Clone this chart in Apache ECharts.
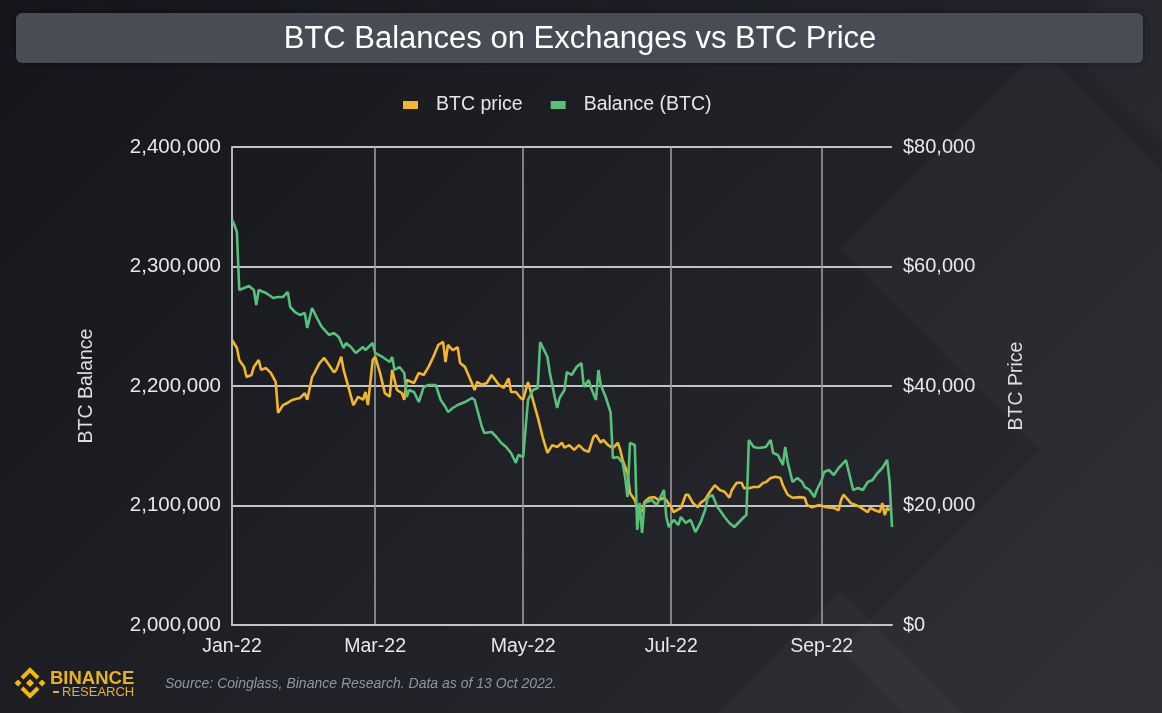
<!DOCTYPE html>
<html>
<head>
<meta charset="utf-8">
<script src="https://cdn.jsdelivr.net/npm/echarts@6/dist/echarts.min.js"></script>
<style>
  html, body { margin: 0; padding: 0; }
  body { width: 1162px; height: 713px; overflow: hidden;
         background: linear-gradient(135deg, #15161a 0%, #1d1f24 40%, #2a2c32 100%); }
  #chart { width: 1162px; height: 713px; }
</style>
</head>
<body>
<div id="chart"></div>
<script>
// ---------- DATA ----------
const titleText = 'BTC Balances on Exchanges vs BTC Price';
const sourceText = 'Source: Coinglass, Binance Research. Data as of 13 Oct 2022.';
const seriesNames = ['BTC price', 'Balance (BTC)'];
const axisStart = '2022-01-01';
const axisEnd = '2022-09-30';
const tickDates = ['2022-01-01', '2022-03-01', '2022-05-01', '2022-07-01', '2022-09-01'];
const tickLabels = ['Jan-22', 'Mar-22', 'May-22', 'Jul-22', 'Sep-22'];
const balanceTicks = [2000000, 2100000, 2200000, 2300000, 2400000];
const priceTicks = [0, 20000, 40000, 60000, 80000];

const balanceData = [
  ['2022-01-01',2339000],['2022-01-02',2334700],['2022-01-03',2328900],['2022-01-04',2280300],
  ['2022-01-06',2282000],['2022-01-08',2283700],['2022-01-10',2280300],['2022-01-11',2267800],
  ['2022-01-12',2280300],['2022-01-15',2277800],['2022-01-18',2273600],['2022-01-20',2274500],
  ['2022-01-22',2274500],['2022-01-24',2278700],['2022-01-25',2266100],['2022-01-27',2261900],
  ['2022-01-29',2259400],['2022-01-31',2261100],['2022-02-01',2248500],['2022-02-03',2265300],
  ['2022-02-05',2256900],['2022-02-07',2249400],['2022-02-10',2242700],['2022-02-12',2244300],
  ['2022-02-14',2241000],['2022-02-16',2231800],['2022-02-17',2236000],['2022-02-19',2232600],
  ['2022-02-21',2227600],['2022-02-24',2232600],['2022-02-25',2230100],['2022-02-28',2236000],
  ['2022-03-01',2227600],['2022-03-04',2224300],['2022-03-07',2220100],['2022-03-08',2224300],
  ['2022-03-09',2213400],['2022-03-11',2215900],['2022-03-13',2210900],['2022-03-14',2190800],
  ['2022-03-15',2196600],['2022-03-17',2195000],['2022-03-19',2186600],['2022-03-21',2199200],
  ['2022-03-23',2200800],['2022-03-26',2200800],['2022-03-28',2188300],['2022-03-30',2182400],
  ['2022-03-31',2178200],['2022-04-02',2181600],['2022-04-04',2184100],['2022-04-07',2186600],
  ['2022-04-10',2190000],['2022-04-11',2188300],['2022-04-14',2165700],['2022-04-15',2160700],
  ['2022-04-18',2161500],['2022-04-20',2157300],['2022-04-22',2152300],['2022-04-24',2149000],
  ['2022-04-26',2143900],['2022-04-28',2135600],['2022-04-29',2142300],['2022-05-01',2140600],
  ['2022-05-03',2188300],['2022-05-05',2196600],['2022-05-07',2198300],['2022-05-08',2236800],
  ['2022-05-09',2232600],['2022-05-11',2224300],['2022-05-12',2210900],['2022-05-14',2190800],
  ['2022-05-15',2181600],['2022-05-16',2190000],['2022-05-18',2196600],['2022-05-19',2211700],
  ['2022-05-21',2209200],['2022-05-23',2215900],['2022-05-25',2219200],['2022-05-26',2199200],
  ['2022-05-28',2205000],['2022-05-29',2198300],['2022-05-31',2188300],['2022-06-01',2213400],
  ['2022-06-02',2200800],['2022-06-04',2190800],['2022-06-06',2178200],['2022-06-07',2139700],
  ['2022-06-09',2140600],['2022-06-11',2135600],['2022-06-12',2123800],['2022-06-13',2107100],
  ['2022-06-14',2152300],['2022-06-16',2150600],['2022-06-17',2079500],['2022-06-18',2102100],
  ['2022-06-19',2077000],['2022-06-20',2102100],['2022-06-21',2102900],['2022-06-23',2104600],
  ['2022-06-25',2100400],['2022-06-28',2113000],['2022-06-29',2090400],['2022-06-30',2082000],
  ['2022-07-02',2087900],['2022-07-04',2083700],['2022-07-05',2090400],['2022-07-07',2085400],
  ['2022-07-09',2087900],['2022-07-11',2077800],['2022-07-13',2085400],['2022-07-15',2096200],
  ['2022-07-16',2106300],['2022-07-18',2108800],['2022-07-20',2098700],['2022-07-21',2096200],
  ['2022-07-23',2090400],['2022-07-25',2085400],['2022-07-27',2082000],['2022-07-29',2086200],
  ['2022-07-31',2090400],['2022-08-01',2092000],['2022-08-02',2154800],['2022-08-04',2149000],
  ['2022-08-06',2148100],['2022-08-09',2149000],['2022-08-11',2154800],['2022-08-12',2143900],
  ['2022-08-14',2142300],['2022-08-16',2133900],['2022-08-17',2149000],['2022-08-18',2136400],
  ['2022-08-20',2119700],['2022-08-22',2123000],['2022-08-24',2119700],['2022-08-25',2115500],
  ['2022-08-27',2113000],['2022-08-29',2107100],['2022-08-30',2113000],['2022-09-01',2121300],
  ['2022-09-02',2128000],['2022-09-04',2129700],['2022-09-06',2125500],['2022-09-08',2131400],
  ['2022-09-10',2135600],['2022-09-11',2138100],['2022-09-13',2121300],['2022-09-14',2113000],
  ['2022-09-16',2114600],['2022-09-18',2113000],['2022-09-20',2119700],['2022-09-22',2121300],
  ['2022-09-24',2127200],['2022-09-26',2131400],['2022-09-28',2138100],['2022-09-29',2120000],
  ['2022-09-30',2082000]
];

const priceData = [
  ['2022-01-01',47700],['2022-01-03',46400],['2022-01-04',44350],['2022-01-06',43200],
  ['2022-01-07',41500],['2022-01-09',41840],['2022-01-10',43200],['2022-01-12',44350],
  ['2022-01-13',42700],['2022-01-15',43000],['2022-01-17',42200],['2022-01-19',40700],
  ['2022-01-20',35500],['2022-01-22',36800],['2022-01-24',37200],['2022-01-26',37700],
  ['2022-01-29',38000],['2022-01-31',38800],['2022-02-01',37700],['2022-02-03',41500],
  ['2022-02-04',42200],['2022-02-06',43800],['2022-02-08',44700],['2022-02-10',43500],
  ['2022-02-12',42300],['2022-02-13',42700],['2022-02-15',44900],['2022-02-16',42700],
  ['2022-02-18',39800],['2022-02-20',36800],['2022-02-22',38200],['2022-02-24',37700],
  ['2022-02-25',39000],['2022-02-26',36800],['2022-02-28',44350],['2022-03-01',44900],
  ['2022-03-03',42200],['2022-03-05',38800],['2022-03-07',38200],['2022-03-08',42700],
  ['2022-03-10',39330],['2022-03-12',38800],['2022-03-13',37700],['2022-03-14',41000],
  ['2022-03-17',40500],['2022-03-19',42200],['2022-03-21',41840],['2022-03-23',43200],
  ['2022-03-25',44900],['2022-03-27',46860],['2022-03-29',47400],['2022-03-30',44000],
  ['2022-03-31',46860],['2022-04-02',46000],['2022-04-04',46500],['2022-04-05',43850],
  ['2022-04-07',43200],['2022-04-09',41300],['2022-04-11',39330],['2022-04-12',40670],
  ['2022-04-14',40200],['2022-04-16',40500],['2022-04-18',41840],['2022-04-21',40200],
  ['2022-04-23',39700],['2022-04-25',41300],['2022-04-26',39000],['2022-04-28',39000],
  ['2022-04-30',38000],['2022-05-01',37700],['2022-05-03',40670],['2022-05-05',37700],
  ['2022-05-07',34800],['2022-05-09',31500],['2022-05-11',28800],['2022-05-13',30100],
  ['2022-05-15',29800],['2022-05-17',30500],['2022-05-18',29700],['2022-05-20',30100],
  ['2022-05-22',29300],['2022-05-24',30100],['2022-05-26',29300],['2022-05-28',29000],
  ['2022-05-30',31500],['2022-05-31',31800],['2022-06-02',30500],['2022-06-03',31000],
  ['2022-06-05',30100],['2022-06-07',29600],['2022-06-09',30500],['2022-06-10',29300],
  ['2022-06-11',27600],['2022-06-13',25400],['2022-06-14',22100],['2022-06-16',20900],
  ['2022-06-17',19700],['2022-06-19',18900],['2022-06-20',20600],['2022-06-22',21300],
  ['2022-06-24',21400],['2022-06-26',20900],['2022-06-28',21300],['2022-06-29',20900],
  ['2022-07-01',19700],['2022-07-02',18900],['2022-07-05',19600],['2022-07-07',21800],
  ['2022-07-08',21800],['2022-07-10',20400],['2022-07-12',19700],['2022-07-13',20400],
  ['2022-07-15',21000],['2022-07-17',22300],['2022-07-19',23400],['2022-07-21',22600],
  ['2022-07-23',22300],['2022-07-25',21300],['2022-07-26',22600],['2022-07-28',23800],
  ['2022-07-30',23800],['2022-07-31',22900],['2022-08-02',22900],['2022-08-04',23100],
  ['2022-08-06',23100],['2022-08-08',23800],['2022-08-09',23900],['2022-08-11',24600],
  ['2022-08-13',24800],['2022-08-15',24600],['2022-08-16',23400],['2022-08-18',21800],
  ['2022-08-20',21300],['2022-08-23',21400],['2022-08-25',21300],['2022-08-26',20100],
  ['2022-08-28',19700],['2022-08-31',20100],['2022-09-03',19700],['2022-09-06',19600],
  ['2022-09-08',19200],['2022-09-09',20900],['2022-09-10',21800],['2022-09-12',20900],
  ['2022-09-13',20400],['2022-09-15',20100],['2022-09-17',19700],['2022-09-20',18900],
  ['2022-09-21',19600],['2022-09-23',19200],['2022-09-25',18900],['2022-09-26',20400],
  ['2022-09-27',18400],['2022-09-28',19600],['2022-09-29',19200]
];

// ---------- BUILD ----------
function fmtDate(d) {
  const m = String(d.getUTCMonth() + 1).padStart(2, '0');
  const dd = String(d.getUTCDate()).padStart(2, '0');
  return d.getUTCFullYear() + '-' + m + '-' + dd;
}
const dayCategories = [];
for (let t = Date.parse(axisStart + 'T00:00:00Z'); t <= Date.parse(axisEnd + 'T00:00:00Z'); t += 86400000) {
  dayCategories.push(fmtDate(new Date(t)));
}
const isTick = (idx, val) => tickDates.indexOf(val) >= 0;

const FONT = 'Liberation Sans, Arial, sans-serif';
const YELLOW = '#f2b52c';
const GREEN = '#57c07a';

function diamond(cx, cy, h, op) {
  return {
    type: 'polygon', z: -100, silent: true,
    shape: { points: [[cx, cy - h], [cx + h, cy], [cx, cy + h], [cx - h, cy]] },
    style: { fill: 'rgba(255,255,255,' + op + ')' }
  };
}

const chart = echarts.init(document.getElementById('chart'), null, { renderer: 'canvas' });
chart.setOption({
  backgroundColor: 'transparent',
  animation: false,
  textStyle: { fontFamily: FONT },
  grid: { left: 232, right: 270, top: 147, bottom: 88, containLabel: false },
  legend: {
    data: seriesNames,
    top: 90, left: 398,
    icon: 'rect', itemWidth: 15, itemHeight: 8, itemGap: 28,
    textStyle: { color: '#e6e6e6', fontSize: 19.5, fontFamily: FONT, padding: [0, 0, 0, 13] }
  },
  xAxis: {
    type: 'category',
    data: dayCategories,
    boundaryGap: false,
    axisLine: { show: true, lineStyle: { color: '#c4c4c4', width: 2 } },
    axisTick: { show: false },
    axisLabel: {
      interval: isTick,
      formatter: v => tickLabels[tickDates.indexOf(v)],
      color: '#e8e8e8', fontSize: 19.5, margin: 12, fontFamily: FONT
    },
    splitLine: { show: true, interval: isTick, lineStyle: { color: '#9c9c9c', width: 1.6 } }
  },
  yAxis: [
    {
      type: 'value', position: 'left',
      min: balanceTicks[0], max: balanceTicks[balanceTicks.length - 1], interval: 100000,
      name: 'BTC Balance', nameLocation: 'middle', nameRotate: 90, nameGap: 135,
      nameTextStyle: { color: '#dedede', fontSize: 19.5, fontFamily: FONT },
      axisLine: { show: true, lineStyle: { color: '#b8b8b8', width: 2 } },
      axisTick: { show: false },
      axisLabel: { color: '#e8e8e8', fontSize: 20.5, margin: 11, fontFamily: FONT,
                   formatter: v => v.toLocaleString('en-US') },
      splitLine: { show: true, lineStyle: { color: '#c4c4c4', width: 2 } }
    },
    {
      type: 'value', position: 'right',
      min: priceTicks[0], max: priceTicks[priceTicks.length - 1], interval: 20000,
      name: 'BTC Price', nameLocation: 'middle', nameRotate: 90, nameGap: 115,
      nameTextStyle: { color: '#dedede', fontSize: 19.5, fontFamily: FONT },
      axisLine: { show: false },
      axisTick: { show: false },
      axisLabel: { color: '#e8e8e8', fontSize: 20, margin: 11, fontFamily: FONT,
                   formatter: v => '$' + v.toLocaleString('en-US') },
      splitLine: { show: false }
    }
  ],
  series: [
    {
      name: seriesNames[0], type: 'line', yAxisIndex: 1, data: priceData,
      showSymbol: false, symbol: 'none', color: YELLOW,
      lineStyle: { color: YELLOW, width: 2.6 }, z: 3
    },
    {
      name: seriesNames[1], type: 'line', yAxisIndex: 0, data: balanceData,
      showSymbol: false, symbol: 'none', color: GREEN,
      lineStyle: { color: GREEN, width: 2.6 }, z: 4
    }
  ],
  graphic: [
    diamond(1040, 250, 200, 0.025),
    diamond(1040, 650, 200, 0.028),
    diamond(1240, 450, 200, 0.022),
    diamond(840, 850, 260, 0.022),
    diamond(1240, 40, 180, 0.022),
    {
      type: 'rect', z: 10, silent: true,
      shape: { x: 16, y: 13, width: 1127, height: 50, r: 6 },
      style: { fill: '#474c55', shadowBlur: 6, shadowColor: 'rgba(0,0,0,0.4)' }
    },
    {
      type: 'text', z: 11, silent: true,
      style: { x: 580, y: 39, text: titleText, fill: '#ffffff',
               font: '31px ' + FONT, textAlign: 'center', textVerticalAlign: 'middle' }
    },
    {
      type: 'text', z: 11, silent: true,
      style: { x: 165, y: 684, text: sourceText, fill: '#8e96a6',
               font: 'italic 14px ' + FONT, textAlign: 'left', textVerticalAlign: 'middle' }
    },
    // Binance logo
    { type: 'polygon', z: 11, silent: true, shape: { points: [[30,679],[34,683],[30,687],[26,683]] }, style: { fill: '#f0b90b' } },
    { type: 'polygon', z: 11, silent: true, shape: { points: [[18,679.5],[21.5,683],[18,686.5],[14.5,683]] }, style: { fill: '#f0b90b' } },
    { type: 'polygon', z: 11, silent: true, shape: { points: [[42,679.5],[45.5,683],[42,686.5],[38.5,683]] }, style: { fill: '#f0b90b' } },
    { type: 'polyline', z: 11, silent: true, shape: { points: [[22,678],[30,670],[38,678]] }, style: { stroke: '#f0b90b', lineWidth: 4, fill: null } },
    { type: 'polyline', z: 11, silent: true, shape: { points: [[22,688],[30,696],[38,688]] }, style: { stroke: '#f0b90b', lineWidth: 4, fill: null } },
    {
      type: 'text', z: 11, silent: true,
      style: { x: 50, y: 679, text: 'BINANCE', fill: '#e8b222',
               font: 'bold 18.5px ' + FONT, textAlign: 'left', textVerticalAlign: 'middle' }
    },
    { type: 'rect', z: 11, silent: true, shape: { x: 53, y: 691, width: 6, height: 2 }, style: { fill: '#e8b222' } },
    {
      type: 'text', z: 11, silent: true,
      style: { x: 62, y: 692, text: 'RESEARCH', fill: '#e8b222',
               font: '13px ' + FONT, textAlign: 'left', textVerticalAlign: 'middle' }
    }
  ]
});
</script>
</body>
</html>
